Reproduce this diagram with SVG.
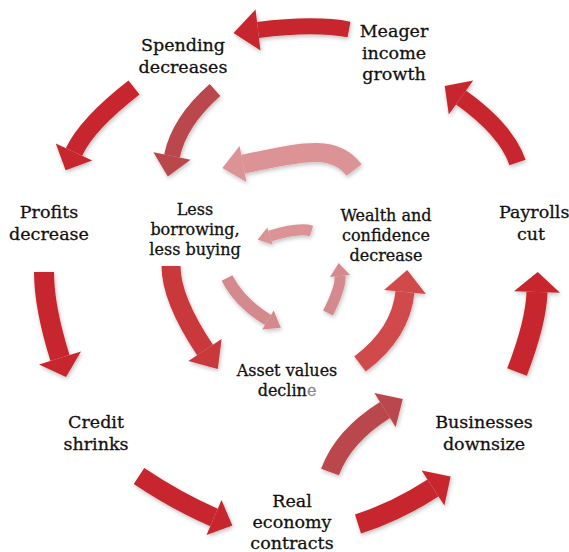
<svg xmlns="http://www.w3.org/2000/svg" width="569" height="552" viewBox="0 0 569 552">
<defs>
<filter id="sh" x="-20%" y="-20%" width="140%" height="140%">
<feDropShadow dx="1" dy="2" stdDeviation="2" flood-color="#000" flood-opacity="0.25"/>
</filter>
<style>
.lbl{font-family:"DejaVu Serif","Liberation Serif",serif;fill:#111;stroke:#111;stroke-width:0.3;text-anchor:middle}
.o{font-size:17.5px}
.i{font-size:16px}
.s{fill:none;stroke-linecap:butt}
.r1{stroke:#c7282d}.r1f{fill:#c7282d}
.r2{stroke:#c9373b}.r2f{fill:#c9373b}
.r3{stroke:#b9464b}.r3f{fill:#b9464b}
.r4{stroke:#d04a4c}.r4f{fill:#d04a4c}
.p1{stroke:#dc9396}.p1f{fill:#dc9396}
.p2{stroke:#d48a8d}.p2f{fill:#d48a8d}
</style>
</defs>
<rect width="569" height="552" fill="#fff"/>
<g id="connectors" filter="url(#sh)">
<g id="a-meager-spending"><path class="s r1" stroke-width="16" d="M349,29.5 Q314,23 258,30"/><polygon class="r1f" points="260.5,50.5 233.5,33 255.5,9.5"/></g>
<g id="a-spending-profits"><path class="s r1" stroke-width="18" d="M134,87.5 Q86.8,124.2 74,152"/><polygon class="r1f" points="92.2,160.4 65.6,170.2 55.8,143.6"/></g>
<g id="a-profits-credit"><path class="s r1" stroke-width="20" d="M44,272 Q44,307 60,358"/><polygon class="r1f" points="81,351.4 66,377 39,364.6"/></g>
<g id="a-credit-real"><path class="s r1" stroke-width="19" d="M139,476 Q178,502 214,517.5"/><polygon class="r1f" points="221.5,500.1 232.4,525.4 206.5,534.9"/></g>
<g id="a-real-business"><path class="s r1" stroke-width="20" d="M358,524 Q396,512 433,488"/><polygon class="r1f" points="444.4,505.6 450.6,476.6 421.6,470.4"/></g>
<g id="a-business-payrolls"><path class="s r1" stroke-width="21" d="M517,372 Q536,322.7 537,292"/><polygon class="r1f" points="560,292.8 537.7,272 514,291.2"/></g>
<g id="a-payrolls-meager"><path class="s r1" stroke-width="17" d="M517.5,162.5 Q506.6,130.1 461,97.5"/><polygon class="r1f" points="473.2,80.4 444.7,85.9 448.8,114.6"/></g>
<g id="m-spending-less"><path class="s r3" stroke-width="16" d="M215,90 Q179,121.7 172,156"/><polygon class="r3f" points="190.6,159.8 167.8,176.6 153.4,152.2"/></g>
<g id="m-wealth-less"><path class="s p1" stroke-width="19" d="M354,170 C333,142 297,153.5 243,164"/><polygon class="p1f" points="246.4,182 222.4,168 239.6,146"/></g>
<g id="m-less-asset"><path class="s r2" stroke-width="19" d="M171,266 Q171,299 205,350"/><polygon class="r2f" points="221.6,338.9 217.8,369.1 188.4,361.1"/></g>
<g id="m-asset-wealth"><path class="s r4" stroke-width="19" d="M360,364 Q400.8,333.4 405,292"/><polygon class="r4f" points="425.9,294.1 407.2,270.1 384.1,289.9"/></g>
<g id="m-real-up"><path class="s r3" stroke-width="19" d="M330,472 Q343.4,436 385,410"/><polygon class="r3f" points="395.6,427 402.8,398.9 374.4,393"/></g>
<g id="i-top"><path class="s p1" stroke-width="11" d="M311.5,231 Q299,227 270,236"/><polygon class="p1f" points="272.7,244.6 257.6,239.8 267.3,227.4"/></g>
<g id="i-left"><path class="s p2" stroke-width="12" d="M227,278 Q239.4,302.5 268,320"/><polygon class="p2f" points="273.7,310.6 280.8,327.8 262.3,329.4"/></g>
<g id="i-right"><path class="s p2" stroke-width="11" d="M328,313 Q341.1,287.1 340,276"/><polygon class="p2f" points="350,275 338.7,263.1 330,277"/></g>
</g>
<g id="n-spending" class="lbl o"><text x="183" y="51">Spending</text><text x="183" y="73">decreases</text></g>
<g id="n-meager" class="lbl o"><text x="394" y="37">Meager</text><text x="394" y="59">income</text><text x="394" y="80">growth</text></g>
<g id="n-profits" class="lbl o"><text x="49" y="218">Profits</text><text x="49" y="240">decrease</text></g>
<g id="n-payrolls" class="lbl o"><text x="499" y="218" style="text-anchor:start">Payrolls</text><text x="531" y="240">cut</text></g>
<g id="n-credit" class="lbl o"><text x="96" y="428">Credit</text><text x="96" y="450">shrinks</text></g>
<g id="n-business" class="lbl o"><text x="484" y="428">Businesses</text><text x="484" y="450">downsize</text></g>
<g id="n-real" class="lbl o"><text x="292" y="507">Real</text><text x="292" y="528">economy</text><text x="292" y="549">contracts</text></g>
<g id="n-less" class="lbl i"><text x="195" y="215">Less</text><text x="195" y="235">borrowing,</text><text x="195" y="255">less buying</text></g>
<g id="n-wealth" class="lbl i"><text x="386" y="221">Wealth and</text><text x="386" y="241">confidence</text><text x="386" y="261">decrease</text></g>
<g id="n-asset" class="lbl i"><text x="287" y="376">Asset values</text><text x="287" y="396">declin<tspan fill="#8a8a8a" stroke="#8a8a8a">e</tspan></text></g>
</svg>
